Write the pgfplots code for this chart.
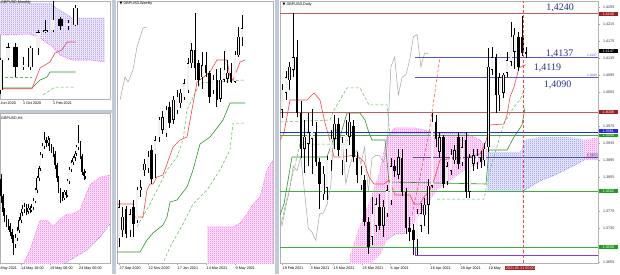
\documentclass[border=0pt]{standalone}
\usepackage{fontspec}
\setmainfont{Liberation Sans}
\newfontfamily\serifnum{Liberation Serif}
\newfontfamily\dejavu{DejaVu Sans}
\usepackage{pgfplots}
\usepackage{pgfplotstable}
\pgfplotsset{compat=1.18}
\usetikzlibrary{patterns}

\definecolor{cloudpink}{RGB}{255,50,230}
\definecolor{cloudblue}{RGB}{90,90,255}
\definecolor{cloudviolet}{RGB}{130,100,245}
\definecolor{tenkan}{RGB}{245,70,70}
\definecolor{kijun}{RGB}{40,150,40}
\definecolor{dotgreen}{RGB}{95,185,95}
\definecolor{lvlred}{RGB}{195,95,95}
\definecolor{lvlblue}{RGB}{85,85,205}
\definecolor{lvlgreen}{RGB}{60,175,60}
\definecolor{navy}{RGB}{40,50,135}
\definecolor{sepcol}{RGB}{192,202,216}
\definecolor{boxred}{RGB}{160,30,30}
\definecolor{boxblue}{RGB}{40,40,230}
\definecolor{boxgreen}{RGB}{30,160,30}
\definecolor{chikou}{RGB}{165,165,165}

\pgfdeclarepatterninherentlycolored{mtpink}{\pgfqpoint{0pt}{0pt}}{\pgfqpoint{2pt}{1.5pt}}{\pgfqpoint{2pt}{1.5pt}}{%
  \pgfsetfillcolor{cloudpink}\pgfpathrectangle{\pgfqpoint{0pt}{0pt}}{\pgfqpoint{0.9pt}{0.9pt}}\pgfusepath{fill}}
\pgfdeclarepatterninherentlycolored{mtblue}{\pgfqpoint{0pt}{0pt}}{\pgfqpoint{2pt}{1.5pt}}{\pgfqpoint{2pt}{1.5pt}}{%
  \pgfsetfillcolor{cloudblue}\pgfpathrectangle{\pgfqpoint{0pt}{0pt}}{\pgfqpoint{0.9pt}{0.9pt}}\pgfusepath{fill}}
\pgfdeclarepatterninherentlycolored{mtviolet}{\pgfqpoint{0pt}{0pt}}{\pgfqpoint{2pt}{1.5pt}}{\pgfqpoint{2pt}{1.5pt}}{%
  \pgfsetfillcolor{cloudviolet}\pgfpathrectangle{\pgfqpoint{0pt}{0pt}}{\pgfqpoint{0.9pt}{0.9pt}}\pgfusepath{fill}}

\newcommand{\tinyf}{\fontsize{3.7}{4.2}\selectfont}

% cloud: tint fill + dotted pattern
\newcommand{\cloud}[3]{%
\addplot[forget plot, draw=none, fill=#1!20] coordinates {#3} -- cycle;
\addplot[forget plot, draw=none, pattern=#2] coordinates {#3} -- cycle;
}

\newcommand{\candles}[6]{%
\addplot[forget plot, draw=none, mark=none, error bars/.cd, y dir=both, y explicit, error mark=none,
  error bar style={draw=black, line width=#2}]
  table[x=x, y expr={(\thisrow{h}+\thisrow{l})/2}, y error expr={(\thisrow{h}-\thisrow{l})/2}] {#1};
\addplot[forget plot, draw=none, mark=none, error bars/.cd, y dir=both, y explicit, error mark=none,
  error bar style={draw=black, line width=#3}]
  table[x=x, y expr={(\thisrow{o}+\thisrow{c})/2}, y error expr={max(abs(\thisrow{o}-\thisrow{c})/2,#5)}] {#1};
\addplot[forget plot, draw=none, mark=none, error bars/.cd, y dir=both, y explicit, error mark=none,
  error bar style={draw=white!88!gray, line width=#4}]
  table[x=x, y expr={(\thisrow{o}+\thisrow{c})/2}, y error expr={ifthenelse(\thisrow{c}>\thisrow{o},max((\thisrow{c}-\thisrow{o})/2-#6,0),0)}] {#1};
}

% ---------------- data ----------------
\pgfplotstableread{
x o h l c
0 1.4013 1.4075 1.3995 1.4060
1 1.4053 1.4105 1.4035 1.4090
2 1.4083 1.4125 1.4060 1.4114
3 1.4107 1.4241 1.4090 1.4137
4 1.4137 1.4177 1.3995 1.4006
5 1.4006 1.4035 1.3900 1.3921
6 1.3921 1.3990 1.3865 1.3949
7 1.3933 1.4005 1.3880 1.3960
8 1.3945 1.4015 1.3862 1.3975
9 1.3960 1.3985 1.3880 1.3890
10 1.3890 1.3900 1.3780 1.3839
11 1.3815 1.3880 1.3800 1.3862
12 1.3830 1.3905 1.3800 1.3895
13 1.3895 1.3965 1.3870 1.3945
14 1.3945 1.4000 1.3920 1.3980
15 1.3980 1.3995 1.3905 1.3918
16 1.3895 1.3950 1.3860 1.3935
17 1.3920 1.3990 1.3890 1.3955
18 1.3950 1.4005 1.3930 1.3985
19 1.3975 1.3990 1.3890 1.3902
20 1.3900 1.3915 1.3840 1.3860
21 1.3836 1.3880 1.3825 1.3860
22 1.3848 1.3860 1.3740 1.3749
23 1.3749 1.3760 1.3674 1.3690
24 1.3714 1.3808 1.3695 1.3768
25 1.3740 1.3805 1.3725 1.3791
26 1.3785 1.3815 1.3730 1.3740
27 1.3740 1.3800 1.3714 1.3785
28 1.3770 1.3835 1.3760 1.3824
29 1.3800 1.3900 1.3790 1.3880
30 1.3880 1.3895 1.3855 1.3870
31 1.3860 1.3920 1.3850 1.3902
32 1.3900 1.3920 1.3810 1.3820
33 1.3820 1.3830 1.3720 1.3735
34 1.3735 1.3760 1.3705 1.3725
35 1.3730 1.3745 1.3671 1.3706
36 1.3708 1.3780 1.3671 1.3768
37 1.3740 1.3795 1.3725 1.3770
38 1.3765 1.3805 1.3740 1.3790
39 1.3790 1.3850 1.3720 1.3835
40 1.3835 1.4006 1.3830 1.3985
41 1.3985 1.4000 1.3925 1.3945
42 1.3915 1.3960 1.3900 1.3949
43 1.3949 1.3955 1.3830 1.3839
44 1.3845 1.3890 1.3835 1.3880
45 1.3870 1.3920 1.3860 1.3908
46 1.3895 1.3930 1.3885 1.3918
47 1.3949 1.3960 1.3875 1.3886
48 1.3890 1.3950 1.3880 1.3925
49 1.3942 1.3960 1.3805 1.3820
50 1.3820 1.3910 1.3805 1.3900
51 1.3886 1.3920 1.3870 1.3906
52 1.3890 1.3920 1.3875 1.3905
53 1.3902 1.3915 1.3875 1.3890
54 1.3895 1.3935 1.3880 1.3922
55 1.3925 1.4159 1.3915 1.4114
56 1.4107 1.4162 1.4095 1.4137
57 1.4137 1.4145 1.4006 1.4048
58 1.4048 1.4100 1.4010 1.4090
59 1.4053 1.4100 1.4040 1.4095
60 1.4100 1.4150 1.4090 1.4130
61 1.4126 1.4220 1.4115 1.4185
62 1.4150 1.4205 1.4110 1.4190
63 1.4185 1.4195 1.4105 1.4114
64 1.4185 1.4234 1.4140 1.4147
65 1.4150 1.4160 1.4135 1.4145
}\dailyT

\pgfplotstableread{
x o h l c
0 1.2800 1.3046 1.2743 1.3000
1 1.2853 1.3000 1.2808 1.2937
2 1.2988 1.3010 1.2800 1.2827
3 1.2853 1.2990 1.2808 1.2956
4 1.3001 1.3046 1.2808 1.2892
5 1.2917 1.3130 1.2900 1.3111
6 1.3111 1.3175 1.3066 1.3130
7 1.3240 1.3310 1.3200 1.3279
8 1.3250 1.3360 1.3220 1.3325
9 1.3369 1.3400 1.3150 1.3182
10 1.3343 1.3460 1.3190 1.3433
11 1.3453 1.3580 1.3420 1.3563
12 1.3500 1.3620 1.3470 1.3580
13 1.3479 1.3650 1.3450 1.3627
14 1.3646 1.3680 1.3510 1.3543
15 1.3563 1.3720 1.3540 1.3692
16 1.3627 1.3756 1.3600 1.3711
17 1.3672 1.3760 1.3640 1.3737
18 1.3711 1.3830 1.3690 1.3801
19 1.3756 1.3960 1.3740 1.3930
20 1.3930 1.4060 1.3900 1.4014
21 1.4014 1.4253 1.3820 1.3900
22 1.3930 1.3950 1.3780 1.3821
23 1.3840 1.4000 1.3760 1.3917
24 1.3917 1.4000 1.3840 1.3866
25 1.3866 1.3880 1.3670 1.3711
26 1.3756 1.3850 1.3730 1.3821
27 1.3821 1.3890 1.3646 1.3692
28 1.3700 1.3900 1.3680 1.3821
29 1.3821 1.4010 1.3810 1.3885
30 1.3830 1.3950 1.3800 1.3866
31 1.3866 1.3930 1.3800 1.3808
32 1.3808 1.4010 1.3800 1.3982
33 1.3982 1.4165 1.3970 1.4098
34 1.4098 1.4240 1.4040 1.4156
}\weeklyT

\pgfplotstableread{
x o h l c
0 1.2401 1.3130 1.2300 1.3077
1 1.3122 1.3460 1.3077 1.3369
2 1.3369 1.3460 1.2694 1.2919
3 1.2919 1.3145 1.2850 1.2964
4 1.2919 1.3390 1.2850 1.3347
5 1.3347 1.3752 1.3190 1.3707
6 1.3707 1.3978 1.3685 1.3752
7 1.3752 1.4500 1.3707 1.3978
8 1.4000 1.4050 1.3750 1.3842
9 1.3842 1.3978 1.3752 1.3910
10 1.3865 1.4315 1.3842 1.4248
}\monthlyT

\pgfplotstableread{
x o h l c
0 1.4140 1.4150 1.4090 1.4105
1 1.4105 1.4110 1.4065 1.4073
2 1.4073 1.4080 1.4052 1.4060
3 1.4060 1.4066 1.4042 1.4050
4 1.4050 1.4058 1.4036 1.4044
5 1.4044 1.4050 1.4025 1.4032
6 1.4032 1.4038 1.4010 1.4018
7 1.4018 1.4026 1.3985 1.4008
8 1.4008 1.4028 1.4000 1.4020
9 1.4020 1.4042 1.4014 1.4036
10 1.4036 1.4062 1.4030 1.4056
11 1.4056 1.4078 1.4050 1.4071
12 1.4071 1.4086 1.4064 1.4079
13 1.4079 1.4090 1.4070 1.4083
14 1.4083 1.4088 1.4066 1.4073
15 1.4073 1.4088 1.4068 1.4081
16 1.4081 1.4085 1.4070 1.4077
17 1.4077 1.4088 1.4072 1.4081
18 1.4081 1.4100 1.4076 1.4095
19 1.4095 1.4122 1.4090 1.4117
20 1.4117 1.4146 1.4112 1.4141
21 1.4141 1.4166 1.4136 1.4161
22 1.4161 1.4193 1.4156 1.4188
23 1.4188 1.4212 1.4182 1.4206
24 1.4206 1.4234 1.4200 1.4218
25 1.4218 1.4224 1.4204 1.4212
26 1.4212 1.4226 1.4206 1.4218
27 1.4218 1.4222 1.4196 1.4202
28 1.4202 1.4210 1.4192 1.4200
29 1.4200 1.4204 1.4184 1.4190
30 1.4190 1.4195 1.4160 1.4167
31 1.4167 1.4172 1.4134 1.4141
32 1.4141 1.4146 1.4110 1.4117
33 1.4117 1.4122 1.4090 1.4105
34 1.4105 1.4112 1.4094 1.4101
35 1.4101 1.4118 1.4096 1.4113
36 1.4113 1.4118 1.4100 1.4107
37 1.4107 1.4140 1.4102 1.4135
38 1.4135 1.4164 1.4130 1.4159
39 1.4159 1.4178 1.4154 1.4173
40 1.4173 1.4186 1.4168 1.4182
41 1.4182 1.4195 1.4176 1.4190
42 1.4190 1.4208 1.4185 1.4204
43 1.4204 1.4248 1.4198 1.4212
44 1.4212 1.4216 1.4180 1.4186
45 1.4186 1.4190 1.4148 1.4153
46 1.4153 1.4160 1.4138 1.4145
47 1.4145 1.4156 1.4140 1.4151
}\hfourT

\pgfplotsset{panel/.style={scale only axis, anchor=south west,
  axis line style={draw=gray!60, line width=0.4pt},
  xtick=\empty, ytick=\empty, tick align=outside, major tick length=1.5pt,
  tick style={draw=gray!70, line width=0.3pt}, xtick pos=bottom, ytick pos=right,
  scaled y ticks=false}}

\begin{document}
\begin{tikzpicture}
\path[use as bounding box] (0pt,0pt) rectangle (620pt,274pt);
\clip (0pt,0pt) rectangle (620pt,274pt);
\begin{scope}[x=1pt,y=1pt]
\fill[sepcol] (0,0) rectangle (620,274);
\fill[white] (0,164.5) rectangle (111.5,274);
\fill[white] (0,0) rectangle (111.5,161.5);
\fill[white] (116,0) rectangle (274.5,274);
\fill[white] (279,0) rectangle (620,274);
\end{scope}

% ================= MONTHLY =================
\begin{axis}[panel, at={(0pt,175pt)}, width=110pt, height=98pt,
  xmin=-0.0667, xmax=14.6, ymin=1.21983, ymax=1.44055,
  xtick={3,7}, xticklabels={}]
\cloud{cloudviolet}{mtviolet}{(-0.067,1.43604)(6.6,1.43604)(7.4,1.42478)(8.73,1.41127)(9.53,1.40226)(13.93,1.40226)
  (13.93,1.30316)(11.93,1.30766)(9.53,1.30766)(7.93,1.31893)(7.0,1.33694)(5.27,1.35721)(3.93,1.36622)(-0.067,1.36397)}
\addplot[forget plot, cloudviolet, densely dotted, line width=0.5pt]
  coordinates {(-0.067,1.43604)(6.6,1.43604)(7.4,1.42478)(8.73,1.41127)(9.53,1.40226)(13.93,1.40226)};
\addplot[forget plot, cloudpink, densely dotted, line width=0.6pt]
  coordinates {(-0.067,1.36397)(3.93,1.36622)(5.27,1.35721)(7.0,1.33694)(7.93,1.31893)(9.53,1.30766)(11.93,1.30766)(13.93,1.30316)};
\addplot[forget plot, dotgreen, densely dashed, line width=0.5pt]
  coordinates {(-0.067,1.26937)(4.2,1.26937)};
\addplot[forget plot, dotgreen, densely dashed, line width=0.5pt]
  coordinates {(5.67,1.22883)(7.27,1.24685)(10,1.24685)};
\addplot[forget plot, kijun, line width=0.6pt]
  coordinates {(-0.067,1.24459)(4.2,1.24459)(5.27,1.26261)(6.2,1.26937)(6.6,1.28063)(10,1.28063)};
\addplot[forget plot, tenkan, line width=0.6pt]
  coordinates {(-0.067,1.24300)(4.2,1.24300)(5.27,1.28964)(6.6,1.30316)(7.27,1.32343)(8.2,1.33018)(8.87,1.34820)(10,1.34820)};
\candles{\monthlyT}{0.6pt}{4.4pt}{3.4pt}{0.0007}{0.0011}
\end{axis}

% ================= H4 =================
\begin{axis}[panel, at={(0pt,11pt)}, width=110pt, height=150pt,
  xmin=-0.556, xmax=60.56, ymin=1.39697, ymax=1.42723,
  xtick={11.1,27.2,43.3}, xticklabels={}]
\cloud{cloudpink}{mtpink}{(12.2,1.3966)(16.1,1.3996)(21.7,1.4056)(25.6,1.4056)(28.9,1.4044)(32.8,1.4058)(36.7,1.4069)(40,1.4069)(43.9,1.4077)(49.4,1.4127)(55,1.4143)(60.56,1.4147)
  (60.56,1.4048)(55,1.4022)(47.8,1.3996)(33.9,1.3966)}
\addplot[forget plot, cloudpink, densely dotted, line width=0.5pt]
  coordinates {(12.2,1.3966)(16.1,1.3996)(21.7,1.4056)(25.6,1.4056)(28.9,1.4044)(32.8,1.4058)(36.7,1.4069)(40,1.4069)(43.9,1.4077)(49.4,1.4127)(55,1.4143)(60.56,1.4147)};
\addplot[forget plot, cloudblue, densely dotted, line width=0.5pt]
  coordinates {(33.9,1.3966)(47.8,1.3996)(55,1.4022)(60.56,1.4048)};
\candles{\hfourT}{0.4pt}{1.3pt}{0.5pt}{0.00006}{0.00007}
\end{axis}

% ================= WEEKLY =================
\begin{axis}[panel, at={(117pt,11pt)}, width=156pt, height=262pt,
  xmin=-0.552, xmax=42.54, ymin=1.26400, ymax=1.43303,
  xtick={0,8,16,24,32}, xticklabels={}]
\cloud{cloudpink}{mtpink}{(24.31,1.28723)(31.49,1.28723)(33.43,1.28981)(35.36,1.29561)(37.02,1.30206)(38.95,1.30658)(40.88,1.32400)(42.54,1.33045)
  (42.54,1.26335)(24.31,1.26335)}
\addplot[forget plot, cloudpink, densely dotted, line width=0.5pt]
  coordinates {(24.31,1.28723)(31.49,1.28723)(33.43,1.28981)(35.36,1.29561)(37.02,1.30206)(38.95,1.30658)(40.88,1.32400)(42.54,1.33045)};
\addplot[forget plot, dotgreen, densely dashed, line width=0.5pt]
  coordinates {(4.97,1.28723)(8.56,1.30206)(11.33,1.31497)(13.26,1.32400)(16.02,1.33239)(17.68,1.34335)(18.78,1.36271)(22.38,1.38013)(25.97,1.38077)(34.81,1.38206)};
\addplot[forget plot, dotgreen, densely dashed, line width=0.5pt]
  coordinates {(11.33,1.25948)(14.09,1.27432)(17.68,1.28916)(20.44,1.30206)(24.31,1.31110)(27.90,1.32400)(30.66,1.33690)(31.49,1.35432)(34.81,1.35432)};
\addplot[forget plot, chikou, line width=0.5pt]
  coordinates {(0.28,1.36916)(1.66,1.38400)(2.49,1.38077)(3.87,1.38852)(4.97,1.40335)(6.63,1.41561)(7.73,1.41626)};
\addplot[forget plot, kijun, line width=0.6pt]
  coordinates {(-0.55,1.27110)(5.80,1.27110)(7.73,1.27884)(9.39,1.28335)(12.15,1.28852)(13.26,1.29368)(14.09,1.30335)(16.02,1.30465)(18.78,1.31303)(20.44,1.32400)(22.38,1.34077)(25.14,1.34529)(28.73,1.35626)(30.66,1.36723)(34.81,1.36723)};
\addplot[forget plot, tenkan, line width=0.6pt]
  coordinates {(-0.55,1.30206)(3.87,1.30206)(4.14,1.29368)(6.63,1.29368)(7.73,1.31110)(8.56,1.31497)(9.39,1.31497)(10.50,1.31948)(12.15,1.32077)(13.26,1.32787)(14.92,1.33884)(16.85,1.34335)(18.78,1.34529)(21.55,1.38077)(23.76,1.38465)(25.14,1.38723)(27.07,1.39497)(29.83,1.39497)(30.66,1.38400)(31.49,1.38206)(32.60,1.38852)(33.43,1.39368)(34.81,1.39497)};
\candles{\weeklyT}{0.5pt}{2.4pt}{1.5pt}{0.0002}{0.0003}
\end{axis}

% ================= DAILY =================
\begin{axis}[panel, at={(280pt,11pt)}, width=318pt, height=262pt,
  xmin=-0.533, xmax=84.18, ymin=1.36526, ymax=1.42691,
  xtick={0,7.46,13.59,21.31,28.77,39.42,47.41,55.41}, xticklabels={},
  ytick={1.3655,1.3735,1.3775,1.3855,1.3895,1.3935,1.3975,1.4055,1.4095,1.4135,1.4175,1.4215,1.4255},
  yticklabel pos=right,
  /pgf/number format/assume math mode=true,
  yticklabel style={font=\tinyf, text=black!80, /pgf/number format/fixed, /pgf/number format/fixed zerofill, /pgf/number format/precision=4}]
% clouds
\cloud{cloudpink}{mtpink}{(18.11,1.36715)(20.78,1.37421)(23.44,1.38009)(26.11,1.38715)(27.97,1.39491)(30.1,1.39703)(35.43,1.39703)(41.29,1.39585)(48.75,1.39585)(52.74,1.39421)(54.61,1.39185)
  (54.61,1.38950)(48.75,1.38715)(41.29,1.38244)(36.76,1.37656)(32.77,1.37209)(30.1,1.37209)(27.97,1.37068)(26.11,1.36715)(23.44,1.36503)(18.11,1.36503)}
\cloud{cloudblue}{mtblue}{(54.61,1.39138)(63.40,1.39138)(64.73,1.39421)(68.73,1.39491)(75.39,1.39491)(78.58,1.39468)(80.45,1.39421)
  (80.45,1.38950)(78.58,1.38856)(75.39,1.38715)(72.72,1.38597)(68.73,1.38456)(64.73,1.38244)(63.40,1.38197)(54.61,1.38197)}
\cloud{cloudpink}{mtpink}{(80.45,1.39421)(84.18,1.39491)(84.18,1.38950)(80.45,1.38950)}
\addplot[forget plot, cloudpink, densely dotted, line width=0.5pt]
  coordinates {(26.11,1.38715)(27.97,1.39491)(30.1,1.39703)(35.43,1.39703)(41.29,1.39585)(48.75,1.39585)(52.74,1.39421)(54.61,1.39185)};
\addplot[forget plot, cloudblue, densely dotted, line width=0.5pt]
  coordinates {(27.97,1.37068)(30.1,1.37209)(32.77,1.37209)};
\addplot[forget plot, cloudblue, densely dotted, line width=0.5pt]
  coordinates {(54.61,1.38197)(63.40,1.38197)(64.73,1.38244)(68.73,1.38456)(72.72,1.38597)(75.39,1.38715)(78.58,1.38856)(80.45,1.38950)(84.18,1.38950)};
% higher time-frame lines
\addplot[forget plot, dotgreen, densely dashed, line width=0.5pt]
  coordinates {(-0.53,1.39844)(12.79,1.39891)(13.85,1.40126)(17.31,1.40644)(20.78,1.40644)(23.18,1.40244)(27.97,1.40244)(28.77,1.39538)};
\addplot[forget plot, dotgreen, densely dashed, line width=0.5pt]
  coordinates {(0,1.37538)(4.79,1.39326)(16.78,1.39326)(18.11,1.39491)};
\addplot[forget plot, dotgreen, densely dashed, line width=0.5pt]
  coordinates {(41.29,1.38032)(53.81,1.38032)(55.41,1.38715)(59.14,1.39821)(61.80,1.40197)(63.40,1.40362)(64.73,1.40644)};
\addplot[forget plot, tenkan, densely dashed, line width=0.5pt]
  coordinates {(34.63,1.37656)(39.16,1.39585)(42.09,1.41374)};
% ichimoku
\addplot[forget plot, chikou, line width=0.5pt]
  coordinates {(-1,1.3791)(0,1.3740)(1,1.3785)(2,1.3824)(3,1.3880)(4,1.3870)(5,1.3902)(6,1.3820)(7,1.3735)(8,1.3725)(9,1.3706)(10,1.3768)(11,1.3770)(12,1.3790)(13,1.3835)(14,1.3985)(15,1.3945)(16,1.3949)(17,1.3839)(18,1.3880)(19,1.3908)(20,1.3918)(21,1.3886)(22,1.3925)(23,1.3820)(24,1.3900)(25,1.3906)(26,1.3905)(27,1.3890)(28,1.3922)(29,1.4114)(30,1.4137)(31,1.4048)(32,1.4090)(33,1.4095)(34,1.4130)(35,1.4185)(36,1.4190)(37,1.4114)(38,1.4147)(39,1.4145)};
\addplot[forget plot, kijun, line width=0.6pt]
  coordinates {(-0.53,1.37656)(0.53,1.37915)(2.66,1.39021)(11.99,1.39021)(13.59,1.39421)(15.45,1.39491)(17.31,1.40056)(20.78,1.40056)(22.11,1.39891)(23.18,1.39585)(23.97,1.39421)(27.44,1.39421)(28.50,1.38432)(54.34,1.38385)(55.14,1.39185)(59.94,1.39185)(61.80,1.39491)(63.93,1.39774)(64.73,1.40174)};
\addplot[forget plot, tenkan, line width=0.6pt]
  coordinates {(-0.53,1.39421)(0.53,1.39585)(2.13,1.40362)(6.66,1.40362)(8.52,1.40526)(10.12,1.40362)(11.45,1.39821)(12.52,1.39491)(13.85,1.39021)(16.52,1.39021)(19.18,1.39068)(20.78,1.38997)(21.84,1.38903)(23.18,1.38550)(24.51,1.38385)(27.17,1.38385)(28.50,1.38479)(30.1,1.38126)(34.1,1.38126)(35.16,1.37915)(36.76,1.37915)(37.83,1.38079)(39.42,1.38244)(40.76,1.38550)(42.09,1.38950)(46.62,1.38997)(48.48,1.38997)(52.74,1.39091)(54.08,1.39326)(54.61,1.39491)(55.41,1.39774)(59.14,1.39797)(59.94,1.40009)(60.74,1.40432)(61.80,1.40668)(63.13,1.41115)(64,1.41160)(65,1.41190)};
% levels
\addplot[forget plot, lvlred, line width=0.6pt] coordinates {(-0.533,1.4240)(84.18,1.4240)};
\addplot[forget plot, lvlred, line width=0.6pt] coordinates {(-0.533,1.4008)(84.18,1.4008)};
\addplot[forget plot, lvlblue, line width=0.5pt] coordinates {(35.43,1.4137)(84.18,1.4137)};
\addplot[forget plot, lvlblue, line width=0.5pt] coordinates {(35.43,1.4090)(84.18,1.4090)};
\addplot[forget plot, boxblue, line width=0.6pt] coordinates {(-0.533,1.3961)(84.18,1.3961)};
\addplot[forget plot, lvlgreen, line width=0.6pt] coordinates {(-0.533,1.3954)(84.18,1.3954)};
\addplot[forget plot, gray!60!blue, line width=0.5pt] coordinates {(34.9,1.3902)(84.18,1.3902)};
\addplot[forget plot, lvlgreen, line width=0.6pt] coordinates {(-0.533,1.3822)(84.18,1.3822)};
\addplot[forget plot, lvlgreen, line width=0.6pt] coordinates {(-0.533,1.3690)(84.18,1.3690)};
\addplot[forget plot, lvlblue!70!magenta, line width=0.6pt] coordinates {(35.43,1.3690)(35.43,1.3671)(84.18,1.3671)};
% candles
\candles{\dailyT}{0.5pt}{2.5pt}{1.6pt}{0.00007}{0.000106}
% time line
\addplot[forget plot, tenkan, densely dashed, line width=0.4pt] coordinates {(64.2,1.36526)(64.2,1.42691)};
\end{axis}

% ================= TEXTS =================
\begin{scope}[x=1pt,y=1pt]
\tinyf
\node[anchor=west, inner sep=0] at (1,271) {GBPUSD,Monthly};
\node[anchor=west, inner sep=0] at (1,156) {GBPUSD,H4};
\node[anchor=west, inner sep=0] at (119.5,270.5) {{\dejavu ▼} GBPUSD,Weekly};
\node[anchor=west, inner sep=0] at (282.5,269) {{\dejavu ▼} GBPUSD,Daily};
% monthly dates
\node[anchor=west, inner sep=0] at (0.5,170.5) {Jun 2020};
\node[anchor=west, inner sep=0] at (23,170.5) {1 Oct 2020};
\node[anchor=west, inner sep=0] at (53,170.5) {1 Feb 2021};
% H4 dates
\node[anchor=west, inner sep=0] at (0.5,5.5) {May 2021};
\node[anchor=west, inner sep=0] at (21,5.5) {14 May 16:00};
\node[anchor=west, inner sep=0] at (50,5.5) {19 May 08:00};
\node[anchor=west, inner sep=0] at (79,5.5) {24 May 00:00};
% weekly dates
\node[anchor=west, inner sep=0] at (119.5,5.5) {27 Sep 2020};
\node[anchor=west, inner sep=0] at (148.5,5.5) {22 Nov 2020};
\node[anchor=west, inner sep=0] at (177.5,5.5) {17 Jan 2021};
\node[anchor=west, inner sep=0] at (206.5,5.5) {14 Mar 2021};
\node[anchor=west, inner sep=0] at (235.5,5.5) {9 May 2021};
% daily dates
\node[anchor=west, inner sep=0] at (282.5,5.5) {19 Feb 2021};
\node[anchor=west, inner sep=0] at (310.5,5.5) {3 Mar 2021};
\node[anchor=west, inner sep=0] at (333.5,5.5) {15 Mar 2021};
\node[anchor=west, inner sep=0] at (362.5,5.5) {25 Mar 2021};
\node[anchor=west, inner sep=0] at (390.5,5.5) {6 Apr 2021};
\node[anchor=west, inner sep=0] at (430.5,5.5) {16 Apr 2021};
\node[anchor=west, inner sep=0] at (460.5,5.5) {28 Apr 2021};
\node[anchor=west, inner sep=0] at (488.5,5.5) {10 May};
\node[anchor=west, fill=boxred, text=white, inner sep=0.7pt] at (505,5.6) {2021.05.21 00:00};
% right scale boxes
\node[anchor=west, fill=boxred, text=white, inner sep=0.5pt, minimum width=19pt] at (598.5,260) {1.4240};
\node[anchor=west, fill=black, text=white, inner sep=0.5pt, minimum width=19pt] at (598.5,223) {1.4147};
\node[anchor=west, fill=boxred, text=white, inner sep=0.5pt, minimum width=19pt] at (598.5,162) {1.4008};
\node[anchor=west, fill=boxblue, text=white, inner sep=0.5pt, minimum width=19pt] at (598.5,143.2) {1.3961};
\node[anchor=west, fill=boxgreen, text=white, inner sep=0.5pt, minimum width=19pt] at (598.5,138.6) {1.3954};
\node[anchor=west, fill=boxgreen, text=white, inner sep=0.5pt, minimum width=19pt] at (598.5,83) {1.3822};
\node[anchor=west, fill=boxgreen, text=white, inner sep=0.5pt, minimum width=19pt] at (598.5,27) {1.3690};
% small line labels
\node[anchor=south east, text=lvlblue, inner sep=0.3pt, font=\fontsize{3.2}{3.5}\selectfont] at (597.5,217.3) {1.4137};
\node[anchor=south east, text=lvlblue, inner sep=0.3pt, font=\fontsize{3.2}{3.5}\selectfont] at (597.5,197.3) {1.4090};
\node[anchor=south east, text=gray!40!blue, draw=gray!50, inner sep=0.3pt, font=\fontsize{3.2}{3.5}\selectfont] at (597.5,117.3) {1.3903};
% big labels
\node[anchor=base, text=navy, inner sep=0, font=\serifnum\fontsize{10}{10}\selectfont] at (560,264) {1,4240};
\node[anchor=base, text=navy, inner sep=0, font=\serifnum\fontsize{10}{10}\selectfont] at (559.5,218) {1,4137};
\node[anchor=base, text=navy, inner sep=0, font=\serifnum\fontsize{10}{10}\selectfont] at (547.5,204) {1,4119};
\node[anchor=base, text=navy, inner sep=0, font=\serifnum\fontsize{10}{10}\selectfont] at (557.5,187) {1,4090};
\end{scope}
\end{tikzpicture}
\end{document}
